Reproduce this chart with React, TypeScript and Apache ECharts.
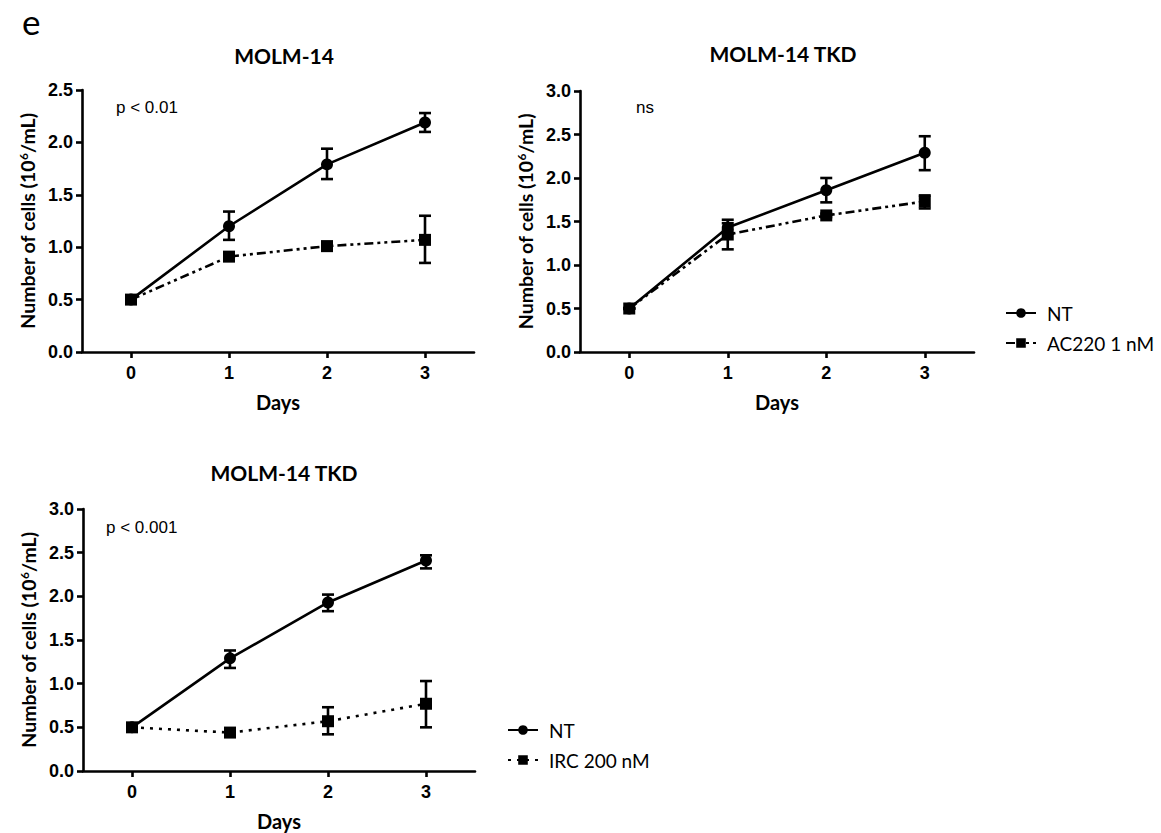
import React, { useEffect, useRef } from "react";
import * as echarts from "echarts";

const days = ["0", "1", "2", "3"];

// Panel 1: MOLM-14, AC220
const p1NT = [0.5, 1.2, 1.79, 2.19];
const p1NTErr = [[0, 0.5, 0.5], [1, 1.07, 1.34], [2, 1.65, 1.94], [3, 2.1, 2.28]];
const p1AC = [0.5, 0.91, 1.01, 1.07];
const p1ACErr = [[0, 0.5, 0.5], [1, 0.9, 0.92], [2, 0.97, 1.05], [3, 0.85, 1.3]];

// Panel 2: MOLM-14 TKD, AC220
const p2NT = [0.5, 1.43, 1.86, 2.29];
const p2NTErr = [[0, 0.5, 0.5], [1, 1.36, 1.52], [2, 1.72, 2.0], [3, 2.09, 2.48]];
const p2AC = [0.5, 1.35, 1.57, 1.73];
const p2ACErr = [[0, 0.5, 0.5], [1, 1.18, 1.48], [2, 1.55, 1.59], [3, 1.65, 1.8]];

// Panel 3: MOLM-14 TKD, IRC
const p3NT = [0.5, 1.29, 1.93, 2.41];
const p3NTErr = [[0, 0.5, 0.5], [1, 1.18, 1.38], [2, 1.83, 2.02], [3, 2.32, 2.47]];
const p3IRC = [0.5, 0.44, 0.57, 0.77];
const p3IRCErr = [[0, 0.5, 0.5], [1, 0.43, 0.45], [2, 0.42, 0.73], [3, 0.5, 1.03]];

const titles = ["MOLM-14", "MOLM-14 TKD", "MOLM-14 TKD"];
const pLabels = ["p < 0.01", "ns", "p < 0.001"];
const yMax = [2.5, 3.0, 3.0];

const AXIS_FONT = "'Liberation Sans', Arial, sans-serif";
const CAL_FONT = "Lato, 'Open Sans', sans-serif";

const errRender = (params: any, api: any) => {
  const x = api.value(0);
  const lo = api.coord([x, api.value(1)]);
  const hi = api.coord([x, api.value(2)]);
  const w = 6;
  const st = { stroke: "#000", lineWidth: 2.6 };
  return {
    type: "group",
    children: [
      { type: "line", shape: { x1: lo[0], y1: lo[1], x2: hi[0], y2: hi[1] }, style: st },
      { type: "line", shape: { x1: lo[0] - w, y1: lo[1], x2: lo[0] + w, y2: lo[1] }, style: st },
      { type: "line", shape: { x1: hi[0] - w, y1: hi[1], x2: hi[0] + w, y2: hi[1] }, style: st },
    ],
  };
};

export default function App() {
  const ref = useRef<HTMLDivElement>(null);
  useEffect(() => {
    if (!ref.current) return;
    const chart = echarts.init(ref.current, null, { renderer: "svg" });
    const grids = [
      { left: 82, top: 90, width: 392, height: 262 },
      { left: 580, top: 91, width: 394, height: 261 },
      { left: 83, top: 509, width: 392, height: 262 },
    ];
    const axisLine = { show: true, lineStyle: { color: "#000", width: 2.6 } };
    const axisTick = { show: true, length: 6, lineStyle: { color: "#000", width: 2.6 } };
    const xAxis = grids.map((_, i) => ({
      type: "category",
      gridIndex: i,
      data: days,
      boundaryGap: true,
      axisLine,
      axisTick: { ...axisTick, alignWithLabel: true },
      axisLabel: { color: "#000", fontFamily: AXIS_FONT, fontWeight: "bold", fontSize: 18, margin: 12 },
      splitLine: { show: false },
      name: "Days",
      nameLocation: "middle",
      nameGap: 40,
      nameTextStyle: { color: "#000", fontFamily: CAL_FONT, fontWeight: "bold", fontSize: 20 },
    }));
    const yAxis = grids.map((_, i) => ({
      type: "value",
      gridIndex: i,
      min: 0,
      max: yMax[i],
      interval: 0.5,
      axisLine,
      axisTick,
      axisLabel: {
        color: "#000",
        fontFamily: AXIS_FONT,
        fontWeight: "bold",
        fontSize: 18,
        margin: 9,
        formatter: (v: number) => v.toFixed(1),
      },
      splitLine: { show: false },
      name: "Number of cells (10{sup|6}/mL)",
      nameLocation: "middle",
      nameRotate: 90,
      nameGap: 45,
      nameTextStyle: {
        color: "#000",
        fontFamily: CAL_FONT,
        fontWeight: "bold",
        fontSize: 19.5,
        rich: {
          sup: { fontFamily: CAL_FONT, fontWeight: "bold", fontSize: 12, verticalAlign: "top", color: "#000" },
        },
      },
    }));

    const lineSeries = (name: string, data: number[], idx: number, symbol: string, type: any) => ({
      type: "line",
      name,
      xAxisIndex: idx,
      yAxisIndex: idx,
      data,
      symbol,
      symbolSize: 12,
      itemStyle: { color: "#000" },
      lineStyle: { color: "#000", width: 2.6, type },
      z: 3,
    });
    const errSeries = (name: string, data: number[][], idx: number) => ({
      type: "custom",
      name: name + " err",
      xAxisIndex: idx,
      yAxisIndex: idx,
      data,
      encode: { x: 0, y: [1, 2] },
      renderItem: errRender,
      z: 4,
    });

    const dashDot = [9, 4, 3, 4, 3, 4];
    const dotted = [3, 6];

    const option: any = {
      animation: false,
      backgroundColor: "#fff",
      grid: grids,
      xAxis,
      yAxis,
      title: [
        { text: titles[0], left: 279, top: 40, textAlign: "center" },
        { text: titles[1], left: 778, top: 38, textAlign: "center" },
        { text: titles[2], left: 279, top: 457, textAlign: "center" },
      ].map((t) => ({
        ...t,
        textStyle: { color: "#000", fontFamily: CAL_FONT, fontWeight: "bold", fontSize: 21 },
      })),
      legend: [
        {
          data: ["NT", "AC220 1 nM"],
          orient: "vertical",
          left: 1000,
          top: 298,
          itemWidth: 30,
          itemHeight: 12,
          itemGap: 10,
          textStyle: { color: "#000", fontFamily: CAL_FONT, fontSize: 19, lineHeight: 20, padding: [0, 0, 0, 6] },
          selectedMode: false,
        },
        {
          data: ["NT", "IRC 200 nM"],
          orient: "vertical",
          left: 502,
          top: 715,
          itemWidth: 30,
          itemHeight: 12,
          itemGap: 10,
          textStyle: { color: "#000", fontFamily: CAL_FONT, fontSize: 19, lineHeight: 20, padding: [0, 0, 0, 6] },
          selectedMode: false,
        },
      ],
      graphic: [
        { type: "text", left: 22, top: 3, style: { text: "e", fill: "#000", font: `35px ${CAL_FONT}` } },
        { type: "text", left: 116, top: 99, style: { text: pLabels[0], fill: "#000", font: `17px ${AXIS_FONT}` } },
        { type: "text", left: 636, top: 99, style: { text: pLabels[1], fill: "#000", font: `17px ${AXIS_FONT}` } },
        { type: "text", left: 106, top: 519, style: { text: pLabels[2], fill: "#000", font: `17px ${AXIS_FONT}` } },
      ],
      series: [
        lineSeries("NT", p1NT, 0, "circle", "solid"),
        lineSeries("AC220 1 nM", p1AC, 0, "rect", dashDot),
        errSeries("NT p1", p1NTErr, 0),
        errSeries("AC p1", p1ACErr, 0),
        lineSeries("NT", p2NT, 1, "circle", "solid"),
        lineSeries("AC220 1 nM", p2AC, 1, "rect", dashDot),
        errSeries("NT p2", p2NTErr, 1),
        errSeries("AC p2", p2ACErr, 1),
        lineSeries("NT", p3NT, 2, "circle", "solid"),
        lineSeries("IRC 200 nM", p3IRC, 2, "rect", dotted),
        errSeries("NT p3", p3NTErr, 2),
        errSeries("IRC p3", p3IRCErr, 2),
      ],
    };
    chart.setOption(option);
    return () => chart.dispose();
  }, []);
  return (
    <div
      ref={ref}
      style={{ position: "absolute", left: 0, top: 0, width: 1161, height: 833 }}
    />
  );
}
